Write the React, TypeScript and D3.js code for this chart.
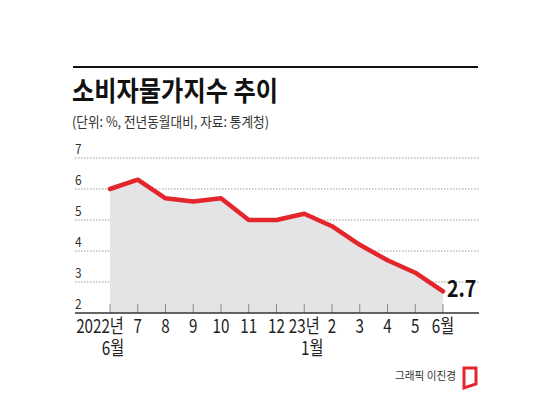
import * as d3 from "d3";

const months = ["2022년|6월", "7", "8", "9", "10", "11", "12", "23년|1월", "2", "3", "4", "5", "6월"];
const cpi = [6.0, 6.3, 5.7, 5.6, 5.7, 5.0, 5.0, 5.2, 4.8, 4.2, 3.7, 3.3, 2.7];
const yTicks = [2, 3, 4, 5, 6, 7];

const W = 550;
const H = 393;
const FONT = "'Noto Sans CJK KR', 'Noto Sans', sans-serif";
const RED = "#e4252b";
const SX = 0.8; // condensed x-labels

export default function App() {
  const x = d3.scalePoint<number>().domain(d3.range(cpi.length)).range([110, 443]);
  const y = d3.scaleLinear().domain([2, 7]).range([313, 158]);

  const line = d3
    .line<number>()
    .x((_, i) => x(i)!)
    .y((d) => y(d));

  const area = d3
    .area<number>()
    .x((_, i) => x(i)!)
    .y0(y(2))
    .y1((d) => y(d));

  const last = cpi.length - 1;

  return (
    <svg
      width={W}
      height={H}
      style={{ position: "absolute", left: 0, top: 0, background: "#fff" }}
      fontFamily={FONT}
    >
      {/* header */}
      <line x1={73} x2={478} y1={67} y2={67} stroke="#111" strokeWidth={2} />
      <text
        x={72}
        y={101}
        fontSize={27}
        fontWeight={700}
        fill="#111"
        textLength={206}
        lengthAdjust="spacingAndGlyphs"
      >
        소비자물가지수 추이
      </text>
      <text
        x={72}
        y={127}
        fontSize={14}
        fill="#333"
        textLength={197}
        lengthAdjust="spacingAndGlyphs"
      >
        (단위: %, 전년동월대비, 자료: 통계청)
      </text>

      {/* grid */}
      {yTicks.map((t) => (
        <g key={t}>
          {t > 2 && (
            <line
              x1={75}
              x2={479}
              y1={y(t)}
              y2={y(t)}
              stroke="#9a9a9a"
              strokeWidth={1}
              strokeDasharray="1.5,1.5"
            />
          )}
          <text
            x={75}
            y={y(t) - 4}
            fontSize={14}
            fill="#333"
            transform={`translate(${75 * 0.15},0) scale(0.85,1)`}
          >
            {t}
          </text>
        </g>
      ))}

      {/* area + line */}
      <path d={area(cpi) ?? ""} fill="#e4e4e6" />
      <path
        d={line(cpi) ?? ""}
        fill="none"
        stroke={RED}
        strokeWidth={4.5}
        strokeLinejoin="round"
        strokeLinecap="round"
      />

      {/* x axis */}
      {months.map((m, i) => (
        <line key={"t" + i} x1={x(i)} x2={x(i)} y1={y(2) - 9} y2={y(2)} stroke="#8a8a8a" strokeWidth={1} />
      ))}
      <line x1={75} x2={479} y1={y(2)} y2={y(2)} stroke="#333" strokeWidth={1.5} />
      {months.map((m, i) => {
        const [a, b] = m.split("|");
        const cx = x(i)!;
        const ax = i === 0 ? cx - 10 : cx;
        const bx = cx + (i === 0 ? 3 : 8);
        return (
          <g key={"l" + i} transform={`translate(${ax},333) scale(${SX},1)`}>
            <text x={0} y={0} fontSize={19} fill="#222" textAnchor="middle">
              <tspan x={0}>{a}</tspan>
              {b && (
                <tspan x={(bx - ax) / SX} dy={22}>
                  {b}
                </tspan>
              )}
            </text>
          </g>
        );
      })}

      {/* last value */}
      <g transform={`translate(${x(last)! + 4},${y(cpi[last]) + 6}) scale(0.85,1)`}>
        <text x={0} y={0} fontSize={23} fontWeight={700} fill="#111">
          {cpi[last]}
        </text>
      </g>

      {/* credit */}
      <text
        x={395}
        y={380}
        fontSize={11}
        fill="#333"
        textLength={61}
        lengthAdjust="spacingAndGlyphs"
      >
        그래픽 이진경
      </text>
      <polygon
        points="464,368 476,368 476,384 464,388"
        fill="none"
        stroke={RED}
        strokeWidth={3}
      />
    </svg>
  );
}
